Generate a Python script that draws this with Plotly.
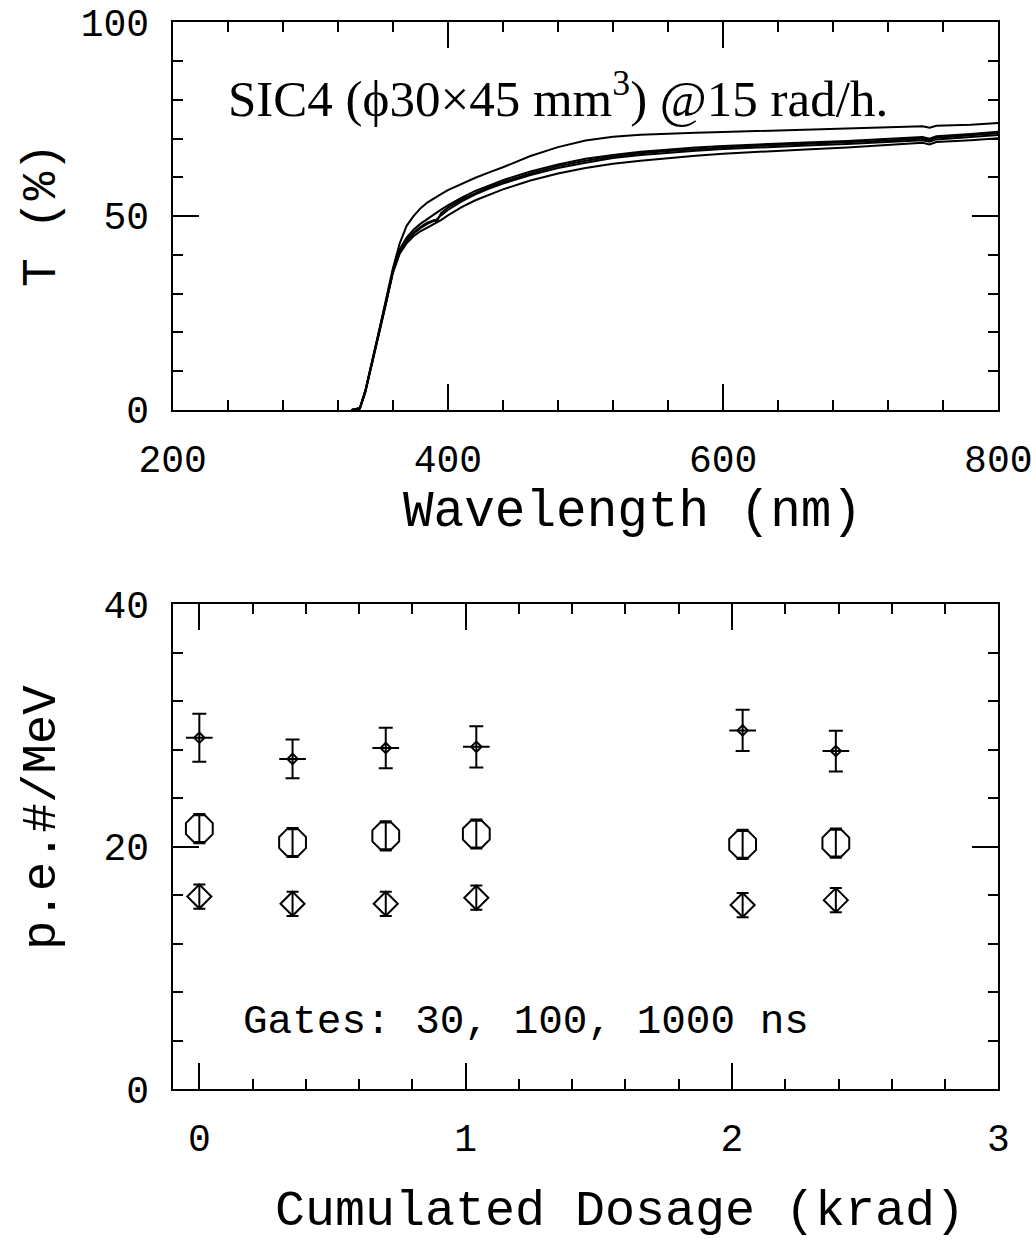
import plotly.graph_objects as go

# ---------------- top panel: transmittance curves ----------------
wavelength = [330, 336, 340, 345, 350, 355, 360, 365, 370, 375, 380, 385, 390, 392, 395,
              400, 410, 420, 430, 440, 460, 480, 500, 520, 540, 560, 580, 600, 630, 660,
              690, 720, 745, 750, 755, 780, 800]

t_curve1 = [0, 0.5, 5, 12.5, 20.5, 28.5, 36.5, 43, 47.5, 50, 52, 53.5, 54.7, 55.1, 55.7,
            56.7, 58.4, 59.9, 61.3, 62.6, 65.5, 67.8, 69.5, 70.5, 71.0, 71.3, 71.5, 71.7, 72.0, 72.3,
            72.6, 72.9, 73.2, 72.8, 73.3, 73.6, 74.0]
t_curve2 = [0, 0.5, 5, 12.5, 20, 28, 36, 41.5, 44.5, 46.5, 48, 49.3, 50.5, 51, 51.7,
            52.8, 54.8, 56.5, 58, 59.3, 61.5, 63.3, 64.8, 65.8, 66.6, 67.2, 67.7, 68.1, 68.6, 69.0,
            69.4, 69.9, 70.4, 70.0, 70.6, 71.2, 71.8]
t_curve3 = [0, 0.4, 4.8, 12.3, 19.8, 27.8, 35.8, 41, 44, 45.8, 47.2, 48.3, 49, 48.6, 50.8,
            52.2, 54.3, 56, 57.5, 58.8, 61, 62.9, 64.3, 65.4, 66.2, 66.8, 67.3, 67.7, 68.2, 68.6,
            69.0, 69.5, 70.0, 69.6, 70.2, 70.8, 71.4]
t_curve4 = [0, 0.4, 4.8, 12.2, 19.7, 27.6, 35.6, 40.7, 43.6, 45.5, 46.9, 48, 48.8, 49.2, 50.2,
            51.6, 53.8, 55.6, 57.1, 58.4, 60.6, 62.4, 63.8, 65, 65.8, 66.4, 66.9, 67.3, 67.8, 68.2,
            68.6, 69.1, 69.6, 69.2, 69.8, 70.4, 70.9]
t_curve5 = [0, 0.3, 4.6, 12, 19.5, 27.4, 35.3, 40.3, 43, 44.8, 46.1, 47.1, 47.9, 48.3, 49,
            50.2, 52.3, 54.1, 55.6, 56.9, 59.2, 61, 62.4, 63.5, 64.3, 65, 65.6, 66.1, 66.7, 67.2,
            67.7, 68.3, 68.9, 68.5, 69.1, 69.6, 70.1]

top_xticks = [200, 400, 600, 800]
top_yticks = [0, 50, 100]

# ---------------- bottom panel: light output vs dose ----------------
dose = [0.0, 0.35, 0.70, 1.04, 2.04, 2.39]

pe_1000ns = [29.0, 27.25, 28.15, 28.25, 29.6, 27.9]
err_1000ns = [1.98, 1.6, 1.67, 1.7, 1.7, 1.68]
pe_100ns = [21.5, 20.35, 20.9, 21.05, 20.2, 20.3]
err_100ns = [1.2, 1.2, 1.2, 1.2, 1.2, 1.2]
pe_30ns = [15.9, 15.3, 15.3, 15.8, 15.2, 15.6]
err_30ns = [1.0, 1.0, 1.0, 1.0, 1.0, 1.0]
dose_halfwidth = [0.05, 0.05, 0.05, 0.05, 0.05, 0.05]

bottom_xticks = [0, 1, 2, 3]
bottom_yticks = [0, 20, 40]

MONO = "Liberation Mono, Courier New, monospace"
SERIF = "Liberation Serif, Times New Roman, serif"

fig = go.Figure()

for t in [t_curve1, t_curve2, t_curve3, t_curve4, t_curve5]:
    fig.add_trace(go.Scatter(x=wavelength, y=t, mode="lines",
                             line=dict(color="black", width=2),
                             xaxis="x", yaxis="y", showlegend=False))

fig.add_trace(go.Scatter(
    x=dose, y=pe_1000ns, mode="markers", xaxis="x2", yaxis="y2", showlegend=False,
    marker=dict(symbol="diamond-open", size=8, color="black", line=dict(width=2)),
    error_y=dict(type="data", array=err_1000ns, color="black", thickness=2, width=7),
    error_x=dict(type="data", array=dose_halfwidth, color="black", thickness=2, width=0)))
fig.add_trace(go.Scatter(
    x=dose, y=pe_100ns, mode="markers", xaxis="x2", yaxis="y2", showlegend=False,
    marker=dict(symbol="octagon-open", size=29, color="black", line=dict(width=2)),
    error_y=dict(type="data", array=err_100ns, color="black", thickness=2, width=6)))
fig.add_trace(go.Scatter(
    x=dose, y=pe_30ns, mode="markers", xaxis="x2", yaxis="y2", showlegend=False,
    marker=dict(symbol="diamond-open", size=18.5, color="black", line=dict(width=2)),
    error_y=dict(type="data", array=err_30ns, color="black", thickness=2, width=6)))

W, H = 1036, 1242
def px(xp):
    return xp / W
def py(yp):
    return 1 - yp / H

axis_common = dict(showline=True, linecolor="black", linewidth=2, mirror="allticks",
                   ticks="inside", ticklen=26, tickwidth=2, tickcolor="black",
                   showgrid=False, zeroline=False, ticklabelstandoff=14, automargin=False,
                   tickfont=dict(family=MONO, size=38, color="black"))

fig.update_layout(
    template="none",
    width=W, height=H, margin=dict(l=0, r=0, t=0, b=0, pad=0, autoexpand=False),
    paper_bgcolor="white", plot_bgcolor="white",
    xaxis=dict(domain=[px(172.7), px(998.3)], range=[200, 800], anchor="y",
               tickvals=top_xticks,
               minor=dict(ticks="inside", ticklen=10, tickwidth=2, tickcolor="black", dtick=40,
                          showgrid=False),
               **axis_common),
    yaxis=dict(domain=[py(410), py(22.3)], range=[0, 100], anchor="x",
               tickvals=top_yticks,
               minor=dict(ticks="inside", ticklen=10, tickwidth=2, tickcolor="black", dtick=10,
                          showgrid=False),
               **axis_common),
    xaxis2=dict(domain=[px(172.7), px(998.3)], range=[-0.1, 3.0], anchor="y2",
                tickvals=bottom_xticks,
                minor=dict(ticks="inside", ticklen=10, tickwidth=2, tickcolor="black", dtick=0.2,
                           tick0=0, showgrid=False),
                **axis_common),
    yaxis2=dict(domain=[py(1089.3), py(604.3)], range=[0, 40], anchor="x2",
                tickvals=bottom_yticks,
                minor=dict(ticks="inside", ticklen=10, tickwidth=2, tickcolor="black", dtick=4,
                           showgrid=False),
                **axis_common),
)

annotations = [
    dict(text="SIC4 (ϕ30×45 mm<sup>3</sup>) @15 rad/h.", x=px(558), y=py(95),
         font=dict(family=SERIF, size=51, color="black")),
    dict(text="Wavelength (nm)", x=px(633), y=py(512),
         font=dict(family=MONO, size=51, color="black")),
    dict(text="T (%)", x=px(42), y=py(215), textangle=-90,
         font=dict(family=MONO, size=48, color="black")),
    dict(text="Gates: 30, 100, 1000 ns", x=px(526), y=py(1022),
         font=dict(family=MONO, size=41, color="black")),
    dict(text="p.e.#/MeV", x=px(42), y=py(818), textangle=-90,
         font=dict(family=MONO, size=49, color="black")),
    dict(text="Cumulated Dosage (krad)", x=px(620), y=py(1211),
         font=dict(family=MONO, size=50, color="black")),
]
for a in annotations:
    a.update(xref="paper", yref="paper", showarrow=False, xanchor="center", yanchor="middle")
fig.update_layout(annotations=annotations)

fig.write_html("out.html",
               config={"displayModeBar": False},
               post_script="document.body.style.margin='0';"
                           "document.body.style.overflow='hidden';")
